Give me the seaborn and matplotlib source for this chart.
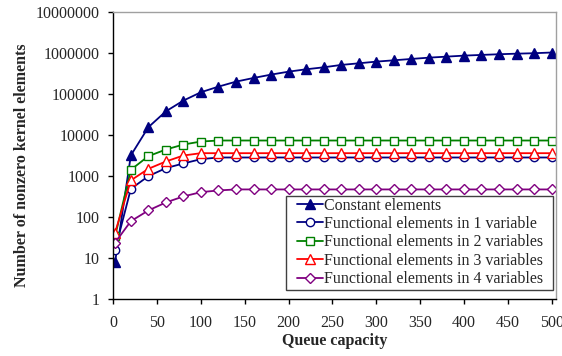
import numpy as np
import pandas as pd
import matplotlib
matplotlib.use("Agg")
import matplotlib.pyplot as plt
import seaborn as sns
from matplotlib.patches import Rectangle
from matplotlib.ticker import FixedLocator, FuncFormatter

# ── Data ──────────────────────────────────────────────────────────────
queue_capacity = [2] + list(range(20, 501, 20))

constant = [8, 3200, 15600, 38000, 69500, 111000, 152000, 201000, 247000,
            298000, 352000, 402000, 449000, 513000, 562000, 618000, 665000,
            718000, 772000, 817000, 865000, 900000, 935000, 965000, 990000,
            1030000]
func_1var = [16, 490, 1000, 1570, 2040, 2600] + [2850] * 20
func_2var = [34, 1430, 3070, 4460, 5900, 6980] + [7390] * 20
func_3var = [42, 790, 1510, 2280, 3190] + [3630] * 21
func_4var = [24, 80, 146, 229, 321, 408, 449] + [475] * 19

series_names = [
    "Constant elements",
    "Functional elements in 1 variable",
    "Functional elements in 2 variables",
    "Functional elements in 3 variables",
    "Functional elements in 4 variables",
]
series_values = [constant, func_1var, func_2var, func_3var, func_4var]

colors = ["#000080", "#000080", "#008000", "#FF0000", "#800080"]
markers = ["^", "o", "s", "^", "D"]
filled = [True, False, False, False, False]
msizes = [6.5, 6, 6, 6.5, 4.8]

y_ticks = [1, 10, 100, 1000, 10000, 100000, 1000000, 10000000]
x_ticks = list(range(0, 501, 50))

# ── Plot ──────────────────────────────────────────────────────────────
sns.set_style("white")
plt.rcParams["font.family"] = ["Liberation Serif", "DejaVu Serif"]

fig = plt.figure(figsize=(5.62, 3.56), dpi=100)
ax = fig.add_axes([0.2016, 0.1593, 0.7877, 0.807])

for name, vals, c, m, f, ms in zip(series_names, series_values, colors,
                                   markers, filled, msizes):
    df = pd.DataFrame({"q": queue_capacity, "v": vals})
    sns.lineplot(data=df, x="q", y="v", ax=ax, color=c, marker=m,
                 markersize=ms, markeredgecolor=c, markeredgewidth=1.0,
                 markerfacecolor=c if f else "white", linewidth=1.3,
                 label=name)

ax.set_yscale("log")
ax.set_ylim(1, 1e7)
ax.set_xlim(0, 505)
ax.yaxis.set_major_locator(FixedLocator(y_ticks))
ax.yaxis.set_minor_locator(FixedLocator([]))
ax.yaxis.set_major_formatter(FuncFormatter(lambda v, p: f"{int(round(v))}"))
ax.xaxis.set_major_locator(FixedLocator(x_ticks))

ax.tick_params(axis="both", direction="out", length=3.5, width=1,
               color="black", labelsize=11.5)
ax.tick_params(axis="y", pad=6)
ax.tick_params(axis="x", pad=7.5)
ax.tick_params(left=True, bottom=True)

for side in ["left", "bottom"]:
    ax.spines[side].set_color("black")
    ax.spines[side].set_linewidth(1.0)
for side in ["top", "right"]:
    ax.spines[side].set_color("#A0A0A0")
    ax.spines[side].set_linewidth(1.0)

ax.set_xlabel("Queue capacity", fontsize=11.5, fontweight="bold", labelpad=2)
ax.set_ylabel("Number of nonzero kernel elements", fontsize=11.5,
              fontweight="bold")
ax.yaxis.set_label_coords(-0.188, 0.467)

leg = ax.legend(loc="upper left", bbox_to_anchor=(0.415, 0.354),
                fontsize=11.5, frameon=False, handlelength=1.6,
                handletextpad=0.1, borderpad=0.0, labelspacing=0.15,
                borderaxespad=0.0)

# legend box drawn separately (wider side padding than matplotlib allows)
box = Rectangle((286 / 562, 66 / 356), 267 / 562, 94 / 356,
                transform=fig.transFigure, facecolor="white",
                edgecolor="#404040", linewidth=1.0, zorder=4)
fig.add_artist(box)
leg.set_zorder(5)
fig.add_artist(leg)

fig.savefig("out.png", dpi=100)
